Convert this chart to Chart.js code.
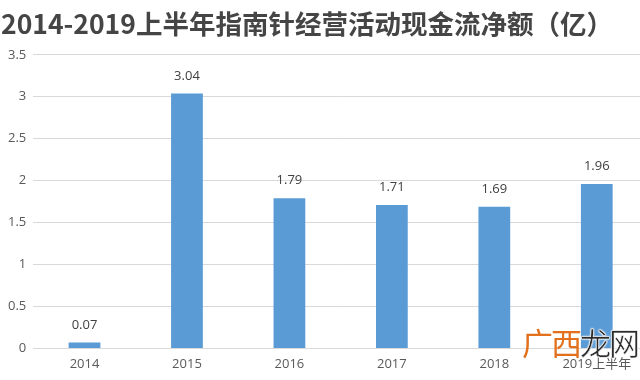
<!DOCTYPE html>
<html>
<head>
<meta charset="utf-8">
<script src="https://cdn.jsdelivr.net/npm/chart.js@4/dist/chart.umd.min.js"></script>
<style>
  body { margin: 0; background: #fff; overflow: hidden; }
  #wrap { position: relative; width: 640px; height: 380px; overflow: hidden; }
  #box { position: absolute; left: 0; top: 0; width: 662px; height: 380px; }
  #mark { position: absolute; left: 522px; top: 326px; font-family: "Noto Sans CJK SC"; font-size: 31px; line-height: 1; letter-spacing: -2px; }
  #mark .a { color: #e2701c; }
  #mark .b { color: #2b2b2b; -webkit-text-stroke: 0.5px #fff; text-shadow: 0 0 2px #fff, 0 0 2px #fff; }
</style>
</head>
<body>
<div id="wrap">
  <div id="box"><canvas id="chart"></canvas></div>
  <div id="mark"><span class="a">广西</span><span class="b">龙网</span></div>
</div>
<script>
// data
const years = ['2014', '2015', '2016', '2017', '2018', '2019上半年'];
const cashFlow = [0.07, 3.04, 1.79, 1.71, 1.69, 1.96];
const yTicks = [0, 0.5, 1, 1.5, 2, 2.5, 3, 3.5];

const fontName = '"Open Sans", "Noto Sans CJK SC", sans-serif';

// labels above bars
const valueLabels = {
    id: 'valueLabels',
    afterDatasetsDraw(chart) {
        const ctx = chart.ctx;
        const meta = chart.getDatasetMeta(0);
        ctx.save();
        ctx.font = '13px ' + fontName;
        ctx.fillStyle = '#404040';
        ctx.textAlign = 'center';
        ctx.textBaseline = 'bottom';
        meta.data.forEach(function (bar, i) {
            ctx.fillText(cashFlow[i].toFixed(2), bar.x, bar.y - 11);
        });
        ctx.restore();
    }
};

const ctx = document.getElementById('chart').getContext('2d');
window.chart = new Chart(ctx, {
    type: 'bar',
    data: {
        labels: years,
        datasets: [{
            data: cashFlow,
            backgroundColor: '#5b9bd5',
            borderWidth: 0,
            barPercentage: 0.31,
            categoryPercentage: 1
        }]
    },
    options: {
        responsive: true,
        maintainAspectRatio: false,
        animation: false,
        layout: { padding: { left: 1, right: 14, top: 0, bottom: 8 } },
        plugins: {
            legend: { display: false },
            tooltip: { enabled: false },
            title: {
                display: true,
                text: '2014-2019上半年指南针经营活动现金流净额（亿）',
                align: 'start',
                color: '#454545',
                font: { family: '"Noto Sans CJK SC", sans-serif', size: 26.5, weight: 'bold' },
                padding: { top: 8, bottom: 15 }
            }
        },
        scales: {
            x: {
                grid: { display: false },
                border: { display: false },
                ticks: { color: '#595959', font: { family: fontName, size: 13 }, padding: 0 }
            },
            y: {
                min: 0,
                max: 3.5,
                afterBuildTicks(axis) {
                    axis.ticks = yTicks.map(function (v) { return { value: v }; });
                },
                grid: { color: '#d9d9d9', drawTicks: false },
                border: { display: false },
                ticks: {
                    color: '#595959',
                    font: { family: fontName, size: 13 },
                    padding: 7,
                    callback: function (v) { return String(v); }
                }
            }
        }
    },
    plugins: [valueLabels]
});
</script>
</body>
</html>
